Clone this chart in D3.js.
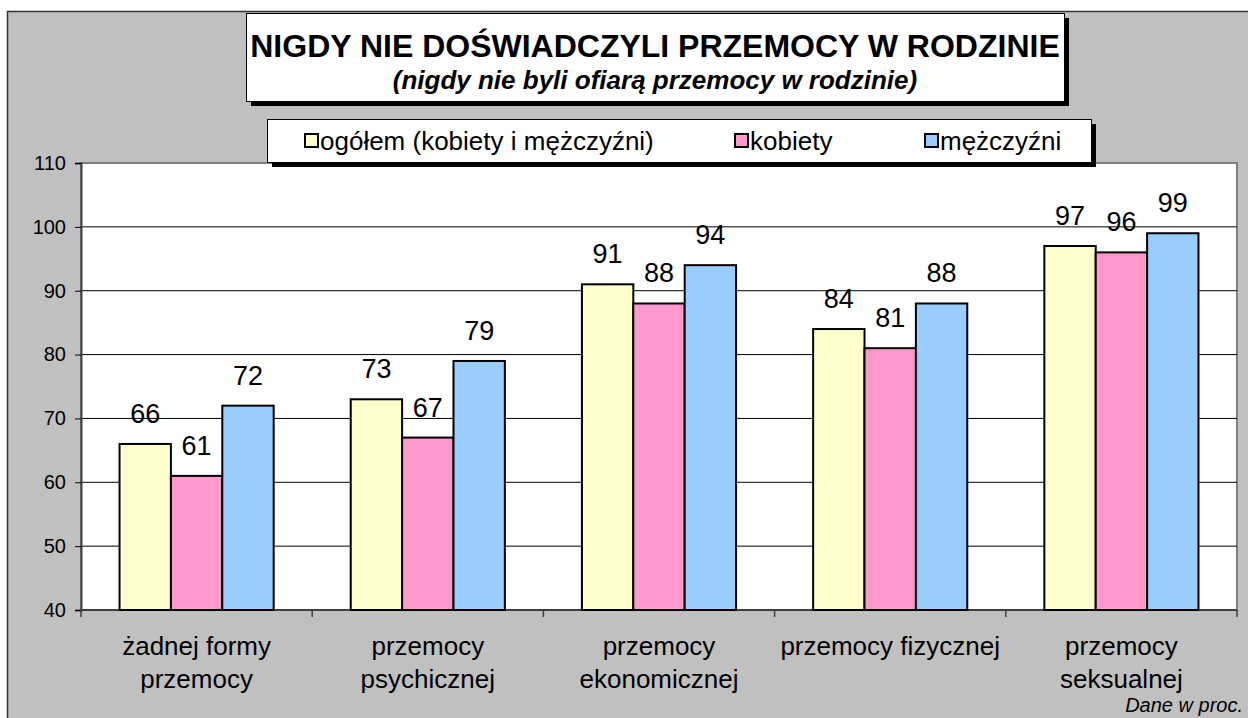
<!DOCTYPE html>
<html>
<head>
<meta charset="utf-8">
<script src="https://cdn.jsdelivr.net/npm/d3@7"></script>
<style>
body{margin:0;background:#fff}
svg{display:block;font-family:"Liberation Sans",Arial,sans-serif}
</style>
</head>
<body>
<script>
var categories=[["żadnej formy","przemocy"],["przemocy","psychicznej"],["przemocy","ekonomicznej"],["przemocy fizycznej"],["przemocy","seksualnej"]]
var seriesNames=["ogółem (kobiety i mężczyźni)","kobiety","mężczyźni"]
var ogolem=[66,73,91,84,97]
var kobiety=[61,67,88,81,96]
var mezczyzni=[72,79,94,88,99]
var yTicks=[40,50,60,70,80,90,100,110]
var colors=["#ffffcc","#ff99cc","#99ccff"]

var width=1248,height=718
var plot={left:81,right:1237,top:163,bottom:610}

var svg=d3.select("body").append("svg").attr("width",width).attr("height",height)

// chart area background
svg.append("rect").attr("x",7.5).attr("y",11.5).attr("width",width).attr("height",height)
	.attr("fill","#c0c0c0").attr("stroke","#333").attr("stroke-width",1.5)

svg.append("rect").attr("x",plot.left).attr("y",plot.top)
	.attr("width",plot.right-plot.left).attr("height",plot.bottom-plot.top)
	.attr("fill","#fff").attr("stroke","#808080").attr("stroke-width",2)

var idx=d3.range(categories.length)
var x0=d3.scaleBand().domain(idx).range([plot.left,plot.right]).paddingInner(0).paddingOuter(0)
var x1=d3.scaleBand().domain(d3.range(3)).range([0,x0.bandwidth()]).paddingInner(0).paddingOuter(0.75)
var y=d3.scaleLinear().domain([40,110]).range([plot.bottom,plot.top])

// gridlines
svg.append("g").selectAll("line").data(yTicks.filter(function(d){return d>40 && d<110}))
	.enter().append("line")
	.attr("x1",plot.left).attr("x2",plot.right)
	.attr("y1",function(d){return y(d)}).attr("y2",function(d){return y(d)})
	.attr("stroke","#000").attr("stroke-width",1)

// y axis
var yAxis=d3.axisLeft(y).tickValues(yTicks).tickSize(6).tickPadding(9)
var gy=svg.append("g").attr("transform","translate("+plot.left+",0)").call(yAxis)
gy.select(".domain").attr("stroke","#404040").attr("stroke-width",2)
gy.selectAll(".tick line").attr("stroke","#000")
gy.selectAll("text").attr("font-size",20).attr("fill","#000").attr("font-family","Liberation Sans, Arial, sans-serif")

// x axis (ticks on category boundaries)
var bounds=idx.map(function(i){return x0(i)}).concat([plot.right])
svg.append("line").attr("x1",plot.left).attr("x2",plot.right)
	.attr("y1",plot.bottom).attr("y2",plot.bottom).attr("stroke","#404040").attr("stroke-width",2)
svg.append("g").selectAll("line").data(bounds).enter().append("line")
	.attr("x1",function(d){return d}).attr("x2",function(d){return d})
	.attr("y1",plot.bottom).attr("y2",plot.bottom+7).attr("stroke","#404040").attr("stroke-width",1.5)

var series=[ogolem,kobiety,mezczyzni]
series.forEach(function(vals,s){
	var g=svg.append("g")
	g.selectAll("rect").data(vals).enter().append("rect")
		.attr("x",function(d,i){return x0(i)+x1(s)})
		.attr("y",function(d){return y(d)})
		.attr("width",x1.bandwidth())
		.attr("height",function(d){return plot.bottom-y(d)})
		.attr("fill",colors[s]).attr("stroke","#000").attr("stroke-width",2)
	g.selectAll("text").data(vals).enter().append("text")
		.attr("x",function(d,i){return x0(i)+x1(s)+x1.bandwidth()/2})
		.attr("y",function(d){return y(d)-21})
		.attr("text-anchor","middle").attr("font-size",27)
		.text(function(d){return d})
})

// category labels
var cl=svg.append("g").selectAll("text").data(categories).enter().append("text")
	.attr("x",function(d,i){return x0(i)+x0.bandwidth()/2})
	.attr("y",655).attr("text-anchor","middle").attr("font-size",26)
cl.selectAll("tspan").data(function(d){return d}).enter().append("tspan")
	.attr("x",function(){return d3.select(this.parentNode).attr("x")})
	.attr("dy",function(d,i){return i==0?0:33})
	.text(function(d){return d})

svg.append("text").attr("x",1243).attr("y",712).attr("text-anchor","end")
	.attr("font-size",20).attr("font-style","italic").text("Dane w proc.")

// title box
function box(x,yy,w,h){
	svg.append("rect").attr("x",x+5).attr("y",yy+5).attr("width",w).attr("height",h).attr("fill","#000")
	svg.append("rect").attr("x",x+0.5).attr("y",yy+0.5).attr("width",w).attr("height",h)
		.attr("fill","#fff").attr("stroke","#000").attr("stroke-width",1)
}
box(246,13,818,88)
svg.append("text").attr("x",655).attr("y",57).attr("text-anchor","middle")
	.attr("font-size",32).attr("font-weight","bold").text("NIGDY NIE DOŚWIADCZYLI PRZEMOCY W RODZINIE")
svg.append("text").attr("x",655).attr("y",89).attr("text-anchor","middle")
	.attr("font-size",26).attr("font-weight","bold").attr("font-style","italic")
	.text("(nigdy nie byli ofiarą przemocy w rodzinie)")

// legend
box(267,119,824,43)
var legX=[305,735,925]
seriesNames.forEach(function(n,i){
	svg.append("rect").attr("x",legX[i]).attr("y",134).attr("width",13).attr("height",13)
		.attr("fill",colors[i]).attr("stroke","#000").attr("stroke-width",2)
	svg.append("text").attr("x",legX[i]+15).attr("y",150).attr("font-size",26).text(n)
})
</script>
</body>
</html>
